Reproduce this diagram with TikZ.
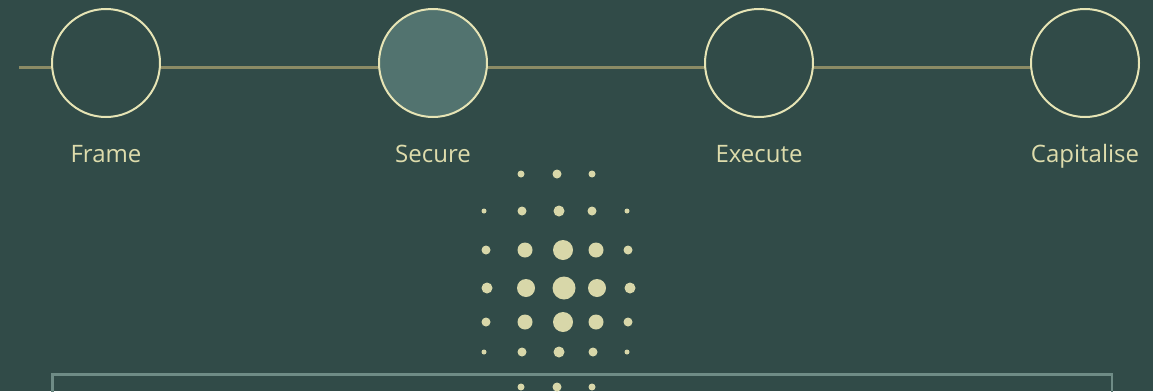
\documentclass[tikz,border=0pt]{standalone}
\usepackage{fontspec}
\setmainfont{Open Sans}
\definecolor{bg}{HTML}{314B48}
\definecolor{ring}{HTML}{E6E4B5}
\definecolor{tline}{HTML}{8B8B65}
\definecolor{sfill}{HTML}{52736F}
\definecolor{txt}{HTML}{DEDCAC}
\definecolor{dotc}{HTML}{D8D7A9}
\definecolor{boxc}{HTML}{6F8C86}
\tikzset{
  stage/.style={circle, draw=ring, line width=2pt, fill=bg, minimum size=108pt, inner sep=0pt},
  stagelabel/.style={text=txt, font=\fontsize{24}{28}\selectfont, inner sep=0pt, anchor=base},
  tl/.style={draw=tline, line width=2.2pt},
  dotstyle/.style={fill=dotc},
}
\begin{document}
\begin{tikzpicture}[x=1pt,y=-1pt]
\fill[bg] (0,0) rectangle (1153,391);
\useasboundingbox (0,0) rectangle (1153,391);
% box
\draw[boxc, line width=2.6pt] (52.5,400) |- (1112,374.5) -- (1112,400);
% timeline
\coordinate (c1) at (106,63);
\coordinate (c2) at (433,63);
\coordinate (c3) at (759,63);
\coordinate (c4) at (1085,63);
\coordinate (start) at (19,67.5);
\draw[tl] (start) -- (start -| c4);
\node[stage] (n1) at (c1) {};
\node[stage, fill=sfill] (n2) at (c2) {};
\node[stage] (n3) at (c3) {};
\node[stage] (n4) at (c4) {};
\node[stagelabel] (l1) at (106,162) {Frame};
\node[stagelabel] (l2) at (433,162) {Secure};
\node[stagelabel] (l3) at (759,162) {Execute};
\node[stagelabel] (l4) at (1085,162) {Capitalise};
% dots
\foreach \x/\y/\d in {
 521/174/7, 557/174/9, 592/174/7,
 484/211/5, 522/211/9, 559/211/11, 592/211/9, 627/211/5,
 486/250/9, 525/250/15, 563/250/20, 596/250/15, 628/250/9,
 487/288/11, 526/288/18, 564/288/23, 597/288/18, 630/288/11,
 486/322/9, 525/322/15, 563/322/20, 596/322/15, 628/322/9,
 484/352/5, 522/352/9, 559/352/11, 593/352/9, 627/352/5,
 521/387/7, 557/387/9, 592/387/7}
 \fill[dotstyle] (\x,\y) circle[radius=\d/2];
\end{tikzpicture}
\end{document}
